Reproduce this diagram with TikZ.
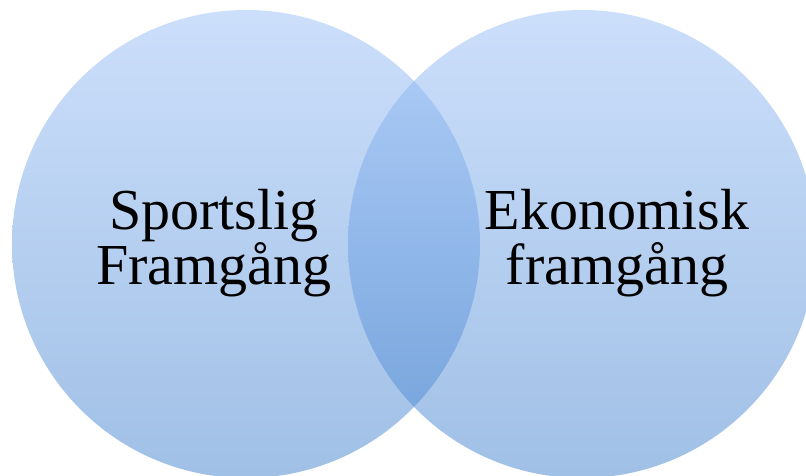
\documentclass[tikz,border=0pt]{standalone}
\usepackage{fontspec}
\setmainfont{Liberation Serif}
\usepackage{xcolor}
\definecolor{vennTop}{RGB}{153,191,247}
\definecolor{vennBot}{RGB}{65,129,205}
\begin{document}
\begin{tikzpicture}[
  x=1pt, y=1pt,
  venn/.style={circle, minimum size=468pt, inner sep=0pt,
    top color=vennTop, bottom color=vennBot, fill opacity=0.5, draw=none},
  lbl/.style={align=center, font=\fontsize{58}{55}\selectfont, text=black}
]
\useasboundingbox (0,0) rectangle (806,475);
\clip (0,0) rectangle (806,475);
\node[venn] (sport) at (246,231) {};
\node[venn] (eko) at (582,231) {};
\node[lbl] (sporttxt) at (214,232) {Sportslig\\Framgång};
\node[lbl] (ekotxt) at (617,232) {Ekonomisk\\framgång};
\end{tikzpicture}
\end{document}
